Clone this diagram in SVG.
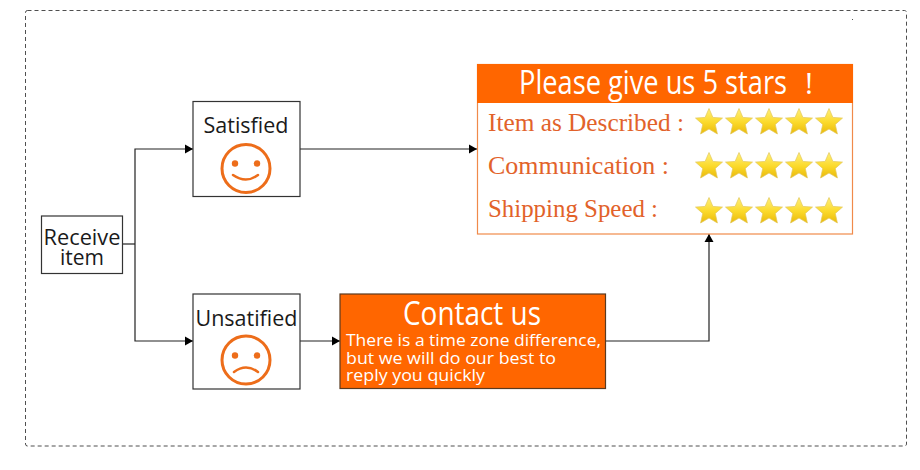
<svg xmlns="http://www.w3.org/2000/svg" xmlns:xlink="http://www.w3.org/1999/xlink" width="920" height="470" viewBox="0 0 920 470">
<style>
.box{fill:#fff;stroke:#333;stroke-width:1.2}
.lbl{font-family:"Open Sans","Noto Sans",sans-serif;fill:#1a1a1a;font-size:22px;text-anchor:middle}
.wht{font-family:"Open Sans","Noto Sans",sans-serif;fill:#fff}
.ser{font-family:"Liberation Serif",serif;fill:#e2622a;font-size:26px}
.face{fill:none;stroke:#ed6d1a;stroke-width:3;stroke-linecap:round}
.eye{fill:#ed6d1a}
.conn{fill:none;stroke:#222;stroke-width:1.2}
</style>
<defs>
<marker id="arr" markerUnits="userSpaceOnUse" markerWidth="8" markerHeight="10" refX="8" refY="5" orient="auto"><path d="M0,0.5 L8,5 L0,9.5 Z" fill="#000"/></marker>
<linearGradient id="sg" x1="0" y1="0" x2="0" y2="1"><stop offset="0" stop-color="#fff07a"/><stop offset="0.55" stop-color="#fbd92a"/><stop offset="1" stop-color="#e9b90c"/></linearGradient>
<path id="star" d="M0,-13.5 L3.900,-4.600 L13.500,-3.900 L6.300,2.400 L8.400,12 L0,7 L-8.400,12 L-6.300,2.400 L-13.500,-3.900 L-3.900,-4.600 Z" fill="url(#sg)" stroke="#e3c75a" stroke-width="0.7" stroke-linejoin="round"/>
<g id="row"><use xlink:href="#star" x="709"/><use xlink:href="#star" x="739"/><use xlink:href="#star" x="769"/><use xlink:href="#star" x="799"/><use xlink:href="#star" x="829"/></g>
</defs>
<rect width="920" height="470" fill="#fff"/>
<rect id="frame" x="25.500" y="10.500" width="881" height="435.500" rx="2" fill="none" stroke="#222" stroke-width="0.8" stroke-dasharray="4 3"/>
<rect x="852" y="19" width="1" height="1" fill="#555"/>
<g id="connectors" class="conn">
<path d="M123,244 H135"/>
<path d="M135,244 V149 H193" marker-end="url(#arr)"/>
<path d="M135,244 V341 H193" marker-end="url(#arr)"/>
<path d="M300,149 H477" marker-end="url(#arr)"/>
<path d="M300,341 H340" marker-end="url(#arr)"/>
<path d="M606,341 H709 V234" marker-end="url(#arr)"/>
</g>
<g id="receive">
<rect class="box" x="41.500" y="216" width="81" height="57.500"/>
<text class="lbl" x="82" y="245" textLength="77" lengthAdjust="spacingAndGlyphs">Receive</text>
<text class="lbl" x="82" y="265" textLength="44" lengthAdjust="spacingAndGlyphs">item</text>
</g>
<g id="satisfied">
<rect class="box" x="193" y="101.500" width="107" height="95"/>
<text class="lbl" x="246" y="132.500" textLength="85" lengthAdjust="spacingAndGlyphs">Satisfied</text>
<circle class="face" cx="246" cy="168.500" r="24"/>
<circle class="eye" cx="235" cy="163.500" r="3.200"/><circle class="eye" cx="257" cy="163.500" r="3.200"/>
<path class="face" d="M233,175 Q246,184 258,175" style="stroke-width:2.500"/>
</g>
<g id="unsatisfied">
<rect class="box" x="193" y="294" width="107" height="95"/>
<text class="lbl" x="246.500" y="326" textLength="102" lengthAdjust="spacingAndGlyphs">Unsatified</text>
<circle class="face" cx="246" cy="360" r="24"/>
<circle class="eye" cx="235" cy="355.500" r="3.200"/><circle class="eye" cx="257" cy="355.500" r="3.200"/>
<path class="face" d="M234,372 Q246,363 258,372" style="stroke-width:2.500"/>
</g>
<g id="contact">
<rect x="340" y="294" width="265.500" height="94.500" fill="#ff6600" stroke="#5a3a20" stroke-width="1.200"/>
<text class="wht" x="472" y="325" font-size="32" text-anchor="middle" textLength="138" lengthAdjust="spacingAndGlyphs">Contact us</text>
<text class="wht" x="346" y="346" font-size="17" textLength="255" lengthAdjust="spacingAndGlyphs">There is a time zone difference,</text>
<text class="wht" x="346" y="364" font-size="17" textLength="210" lengthAdjust="spacingAndGlyphs">but we will do our best to</text>
<text class="wht" x="346" y="381" font-size="17" textLength="139" lengthAdjust="spacingAndGlyphs">reply you quickly</text>
</g>
<g id="stars-panel">
<rect x="477.500" y="64.500" width="375" height="169.500" fill="#fff" stroke="#f08a4a" stroke-width="1.200"/>
<rect x="477" y="64" width="376" height="39" fill="#ff6600"/>
<text class="wht" x="519" y="94" font-size="32" textLength="268" lengthAdjust="spacingAndGlyphs">Please give us 5 stars</text>
<text class="wht" x="805" y="94" font-size="30">!</text>
<text class="ser" x="488" y="130.500" textLength="196" lengthAdjust="spacingAndGlyphs">Item as Described :</text>
<text class="ser" x="488" y="174" textLength="181" lengthAdjust="spacingAndGlyphs">Communication :</text>
<text class="ser" x="488" y="217" textLength="170" lengthAdjust="spacingAndGlyphs">Shipping Speed :</text>
<use xlink:href="#row" y="122"/>
<use xlink:href="#row" y="166"/>
<use xlink:href="#row" y="211"/>
</g>
</svg>
